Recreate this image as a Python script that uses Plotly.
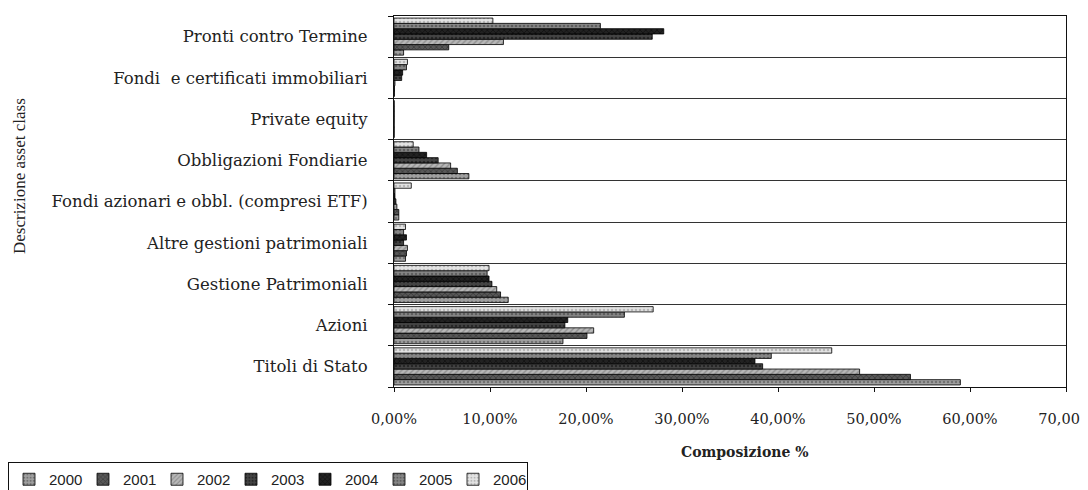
import plotly.graph_objects as go

categories = [
    "Titoli di Stato",
    "Azioni",
    "Gestione Patrimoniali",
    "Altre gestioni patrimoniali",
    "Fondi azionari e obbl. (compresi ETF)",
    "Obbligazioni Fondiarie",
    "Private equity",
    "Fondi  e certificati immobiliari",
    "Pronti contro Termine",
]

years = ["2000", "2001", "2002", "2003", "2004", "2005", "2006"]

# values in % per year, in the order of `categories`
v2000 = [59.0, 17.6, 11.9, 1.2, 0.5, 7.8, 0.02, 0.05, 1.0]
v2001 = [53.8, 20.1, 11.1, 1.3, 0.5, 6.6, 0.02, 0.05, 5.7]
v2002 = [48.5, 20.8, 10.7, 1.4, 0.3, 5.9, 0.02, 0.1, 11.4]
v2003 = [38.4, 17.8, 10.2, 1.0, 0.2, 4.6, 0.02, 0.8, 26.9]
v2004 = [37.6, 18.1, 9.9, 1.3, 0.1, 3.4, 0.02, 0.9, 28.1]
v2005 = [39.3, 24.0, 9.7, 1.0, 0.1, 2.6, 0.02, 1.3, 21.5]
v2006 = [45.6, 27.0, 9.9, 1.2, 1.8, 2.0, 0.02, 1.4, 10.3]

series = [v2000, v2001, v2002, v2003, v2004, v2005, v2006]

fills = ["#a0a0a0", "#585858", "#b8b8b8", "#444444", "#222222", "#868686", "#e4e4e4"]
pat_shapes = [".", "x", "/", ".", "x", ".", "."]
pat_fg = ["#444444", "#1a1a1a", "#666666", "#0a0a0a", "#000000", "#383838", "#8a8a8a"]

# page has an 8px body margin; plot area in page px: x 394..1066, y 16..387
L, T = 386, 8
PW, PH = 672, 371
W, H = 1088, 490

fig = go.Figure()
for yr, vals, fc, ps, fg in zip(years, series, fills, pat_shapes, pat_fg):
    fig.add_trace(go.Bar(
        name=yr,
        y=categories,
        x=vals,
        orientation="h",
        marker=dict(
            color=fc,
            line=dict(color="#000000", width=0.8),
            pattern=dict(shape=ps, fgcolor=fg, size=4, solidity=0.35),
        ),
    ))

fig.update_layout(
    width=W,
    height=H,
    paper_bgcolor="white",
    plot_bgcolor="white",
    barmode="group",
    bargap=0.1,
    bargroupgap=0.0,
    separators=",.",
    margin=dict(l=L, r=W - L - PW, t=T, b=H - T - PH, autoexpand=False),
    font=dict(family="DejaVu Serif", color="#1a1a1a"),
    xaxis=dict(
        range=[0, 70],
        dtick=10,
        tickformat=".2f",
        ticksuffix="%",
        showgrid=False,
        zeroline=False,
        showline=True,
        linecolor="#111111",
        linewidth=1.2,
        mirror=True,
        ticks="outside",
        ticklen=4,
        tickcolor="#111111",
        ticklabelstandoff=14,
        tickfont=dict(family="DejaVu Serif", size=14.5, color="#222222"),
    ),
    yaxis=dict(
        type="category",
        tickson="boundaries",
        showgrid=True,
        gridcolor="#333333",
        gridwidth=1.2,
        showline=True,
        linecolor="#111111",
        linewidth=1.2,
        mirror=True,
        ticks="outside",
        ticklen=5,
        tickcolor="#111111",
        ticklabelstandoff=22,
        tickfont=dict(family="DejaVu Serif", size=16.5, color="#222222"),
    ),
    legend=dict(
        orientation="h",
        x=-L / PW,
        xanchor="left",
        y=-75 / PH,
        yanchor="top",
        bordercolor="#111111",
        borderwidth=1,
        bgcolor="white",
        traceorder="normal",
        font=dict(family="Liberation Sans", size=15, color="#222222"),
        entrywidth=29,
        itemwidth=30,
    ),
    annotations=[
        dict(text="<b>Composizione %</b>", xref="paper", yref="paper",
             x=(745 - 394) / PW, y=-65 / PH, xanchor="center", yanchor="middle",
             showarrow=False,
             font=dict(family="DejaVu Serif", size=14, color="#222222")),
        dict(text="Descrizione asset class", xref="paper", yref="paper",
             x=(19 - 394) / PW, y=(387 - 176) / PH, xanchor="center", yanchor="middle",
             textangle=-90, showarrow=False,
             font=dict(family="Liberation Serif", size=17, color="#222222")),
    ],
)

fig.write_html("out.html")
